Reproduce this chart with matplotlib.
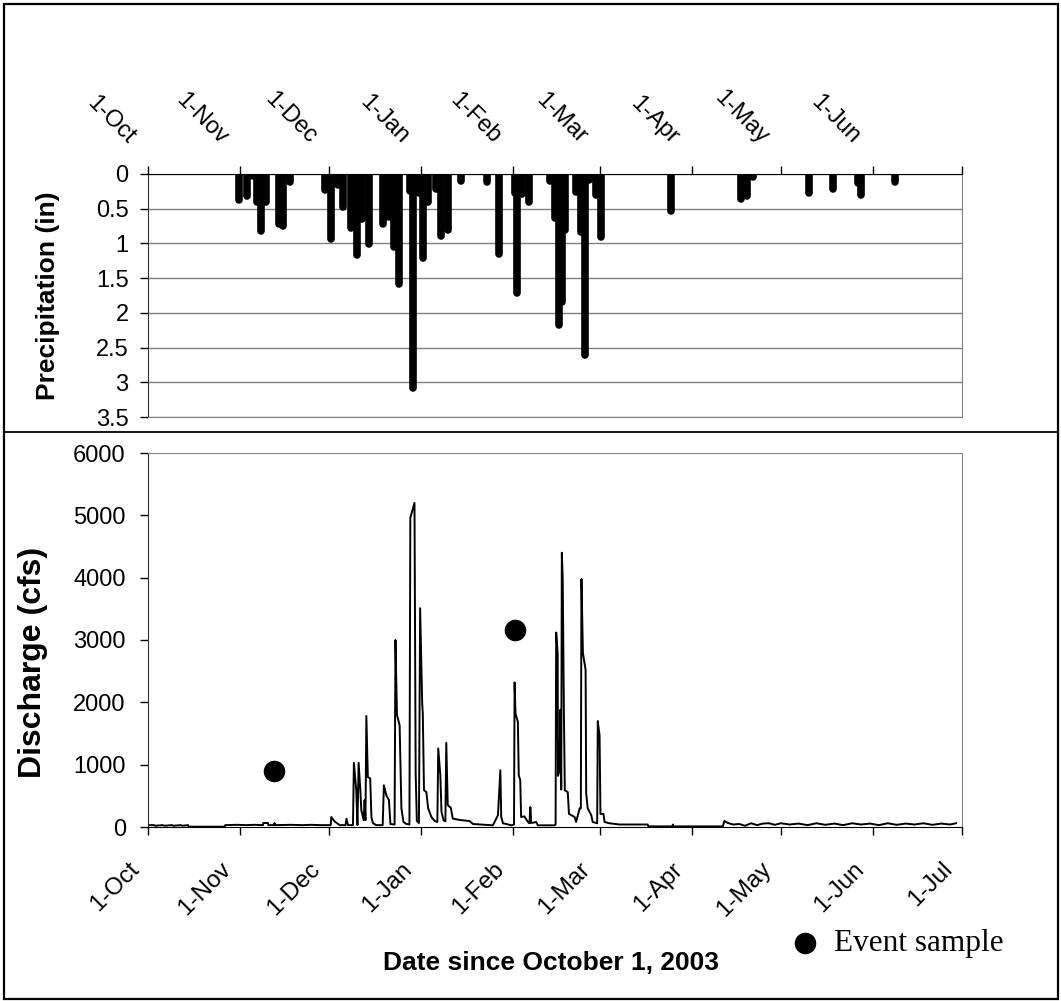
import datetime as dt
import matplotlib
matplotlib.use("Agg")
import matplotlib.pyplot as plt
from matplotlib.patches import Rectangle
from matplotlib.lines import Line2D

plt.rcParams['font.family'] = ['Liberation Sans', 'DejaVu Sans']

# ---- data (days since 1-Oct-2003) ----
# daily precipitation, inches
precip_day = [30.6, 33.3, 35.3, 36.8, 38.1, 39.6, 44.1, 45.4, 47.7, 59.5, 61.6, 63.8,
              65.6, 68.4, 70.3, 72.1, 74.4, 79.2, 81.0, 82.7, 84.5, 88.1, 89.3, 91.2,
              92.5, 94.1, 96.8, 98.7, 100.9, 105.4, 114.1, 118.1, 123.4, 124.2, 126.0,
              128.2, 135.4, 137.1, 138.3, 139.4, 140.5, 144.1, 145.8, 147.0, 148.6,
              150.9, 152.6, 176.1, 199.7, 201.5, 203.6, 222.4, 230.5, 238.9, 239.9, 251.5]
precip_in = [0.37, 0.32, 0.03, 0.41, 0.82, 0.41, 0.72, 0.75, 0.12, 0.23, 0.93, 0.16,
             0.47, 0.78, 1.16, 0.65, 1.01, 0.72, 0.62, 1.05, 1.58, 0.25, 3.08, 0.28,
             1.21, 0.41, 0.22, 0.89, 0.80, 0.10, 0.12, 1.15, 0.28, 1.72, 0.29,
             0.41, 0.10, 0.64, 2.18, 1.85, 0.81, 0.26, 0.83, 2.60, 0.09,
             0.30, 0.91, 0.54, 0.36, 0.32, 0.05, 0.27, 0.21, 0.13, 0.30, 0.11]

# stream discharge, cfs
q_day = [0, 2, 2.5, 5, 5.5, 8, 8.5, 11, 11.5, 13.5, 13.7, 25.8, 26.0, 30, 33, 36,
         38.7, 38.8, 40.4, 40.5, 42.4, 42.6, 42.8, 48, 52, 55, 58, 61.5, 61.7, 62.8,
         64.5, 66.5, 66.8, 67.3, 69.0, 69.3, 70.1, 70.5, 70.9, 71.5, 71.8, 72.6, 72.9,
         73.2, 73.5, 74.0, 74.8, 75.2, 75.7, 76.8, 79.0, 79.4, 80.2, 81.1, 81.6, 83.0,
         83.3, 83.8, 84.7, 85.3, 86.0, 86.9, 88.0, 88.3, 89.7, 90.1, 90.5, 91.2, 91.6,
         92.3, 92.5, 92.9, 93.7, 94.3, 95.4, 96.5, 97.4, 97.7, 98.4, 98.8, 99.5, 100.1,
         100.4, 100.9, 101.9, 102.6, 104.9, 108.2, 109.4, 116.1, 117.8, 118.6, 118.9,
         119.5, 120.6, 122.3, 123.2, 123.4, 123.7, 124.5, 124.8, 125.3, 125.6, 126.7,
         127.9, 128.4, 128.7, 129.0, 130.7, 131.2, 136.8, 137.2, 137.4, 137.9, 138.0,
         138.5, 138.8, 139.1, 139.3, 139.6, 140.0, 140.3, 141.3, 141.7, 142.5, 143.6,
         144.1, 145.3, 145.7, 145.9, 146.4, 147.3, 147.5, 148.0, 149.2, 149.7, 151.2,
         151.4, 152.0, 152.3, 153.3, 153.7, 155.3, 158.7, 168.2, 168.4, 176.5, 176.7,
         176.9, 193.5, 194.0, 195.2, 197, 199, 201, 203, 205, 207, 209, 211, 213, 216,
         219, 222, 225, 228, 231, 234, 237, 240, 243, 246, 249, 252, 255, 258, 261,
         264, 267, 270, 272]
q_cfs = [30, 30, 20, 30, 20, 30, 20, 30, 20, 30, 5, 5, 30, 35, 30, 35,
         30, 64, 64, 30, 30, 64, 30, 35, 30, 35, 30, 30, 160, 90,
         30, 30, 134, 30, 30, 1030, 590, 30, 1030, 570, 270, 110, 430,
         110, 1780, 800, 780, 160, 64, 30, 30, 670, 510, 430, 47, 40,
         3000, 1800, 1630, 300, 80, 50, 40, 4960, 5200, 860, 96, 64, 3510,
         1980, 1820, 590, 560, 300, 160, 96, 80, 1260, 830, 240, 107, 90,
         1350, 350, 310, 135, 113, 96, 48, 27, 190, 910, 160,
         59, 48, 27, 40, 2320, 1820, 1690, 830, 750, 160, 170,
         80, 60, 320, 64, 80, 27, 27, 40, 3120, 2790, 820,
         900, 1880, 600, 4400, 3970, 1820, 590, 560, 210, 190, 160,
         80, 300, 300, 3980, 2790, 2520, 540, 300, 190, 80, 60,
         1700, 1470, 210, 210, 80, 60, 40, 40, 10, 10, 40,
         10, 10, 96, 64, 40, 48, 20, 60, 30, 55, 60, 35, 60, 40,
         55, 30, 60, 35, 55, 30, 60, 40, 55, 30, 60, 35, 55, 40, 60,
         35, 55, 40, 60]

# event samples
event_day = [42.3, 123.4]
event_cfs = [900, 3160]

tick_names = ['1-Oct', '1-Nov', '1-Dec', '1-Jan', '1-Feb', '1-Mar',
              '1-Apr', '1-May', '1-Jun', '1-Jul']


def month_offsets():
    """Day offsets of the first of each month, Oct 2003 - Jul 2004."""
    start = dt.date(2003, 10, 1)
    out = []
    y, m = 2003, 10
    for _ in range(10):
        out.append((dt.date(y, m, 1) - start).days)
        m += 1
        if m > 12:
            m, y = 1, y + 1
    return out


def main():
    W, H = 1061, 1001
    fig = plt.figure(figsize=(W / 100, H / 100), dpi=100)
    ticks = month_offsets()
    gray = '#808080'

    left, right = 148 / W, 962 / W

    # ---- precipitation panel (top) ----
    ax_p = fig.add_axes([left, 1 - 417 / H, right - left, (417 - 174) / H])
    bars = ax_p.vlines(precip_day, 0, precip_in, color='black', lw=5.5, zorder=3)
    bars.set_capstyle('round')
    ax_p.set_xlim(0, 274)
    ax_p.set_ylim(3.5, 0)
    ax_p.set_yticks([0, 0.5, 1, 1.5, 2, 2.5, 3, 3.5])
    ax_p.set_yticklabels(['0', '0.5', '1', '1.5', '2', '2.5', '3', '3.5'], fontsize=17)
    ax_p.yaxis.grid(True, color=gray, lw=1)
    ax_p.set_axisbelow(True)
    ax_p.xaxis.tick_top()
    ax_p.set_xticks(ticks)
    ax_p.tick_params(axis='x', length=6, width=1, labeltop=False, labelbottom=False)
    ax_p.tick_params(axis='y', length=6, width=1, pad=8)
    ax_p.spines['top'].set_color('black')
    ax_p.spines['left'].set_color('#303030')
    ax_p.spines['right'].set_color(gray)
    ax_p.spines['bottom'].set_color(gray)
    for d, name in zip(ticks[:9], tick_names[:9]):
        ax_p.annotate(name, xy=(d, 1), xycoords=('data', 'axes fraction'),
                      xytext=(-12, 24), textcoords='offset points',
                      rotation=-45, ha='right', va='center',
                      rotation_mode='anchor', fontsize=17)

    # ---- discharge panel (bottom) ----
    ax_q = fig.add_axes([left, 1 - 827 / H, right - left, (827 - 453) / H])
    ax_q.plot(q_day, q_cfs, color='black', lw=1.4)
    ax_q.plot(event_day, event_cfs, 'o', color='black', ms=14.5, zorder=4)
    ax_q.set_xlim(0, 274)
    ax_q.set_ylim(0, 6000)
    ax_q.set_yticks(range(0, 6001, 1000))
    ax_q.tick_params(axis='y', length=6, width=1, pad=10, labelsize=17)
    ax_q.set_xticks(ticks)
    ax_q.tick_params(axis='x', length=6, width=1, labelbottom=False)
    ax_q.spines['top'].set_color(gray)
    ax_q.spines['right'].set_color(gray)
    ax_q.spines['left'].set_color('#303030')
    ax_q.spines['bottom'].set_color('black')
    for d, name in zip(ticks, tick_names):
        ax_q.annotate(name, xy=(d, 0), xycoords=('data', 'axes fraction'),
                      xytext=(-9, -28), textcoords='offset points',
                      rotation=45, ha='right', va='center',
                      rotation_mode='anchor', fontsize=17.5)

    # axis titles
    fig.text(48 / W, 1 - 296 / H, 'Precipitation (in)', rotation=90,
             ha='center', va='center', fontsize=19, fontweight='bold')
    fig.text(33 / W, 1 - 662 / H, 'Discharge (cfs)', rotation=90,
             ha='center', va='center', fontsize=23, fontweight='bold')
    fig.text(551 / W, 1 - 970 / H, 'Date since October 1, 2003',
             ha='center', va='baseline', fontsize=19, fontweight='bold')

    # legend for the event samples
    fig.add_artist(Line2D([805 / W], [1 - 943 / H], marker='o', ms=14.5,
                          color='black', linestyle='none'))
    fig.text(834 / W, 1 - 951 / H, 'Event sample', ha='left', va='baseline',
             fontsize=22.5, family=['Liberation Serif', 'DejaVu Serif'])

    # outer frame and the divider between the panels
    fig.add_artist(Rectangle((4 / W, 2 / H), 1054 / W, 995 / H, fill=False,
                             edgecolor='black', lw=1.6, transform=fig.transFigure))
    fig.add_artist(Line2D([4 / W, 1058 / W], [1 - 432 / H, 1 - 432 / H],
                          color='black', lw=1.3, transform=fig.transFigure))

    fig.savefig('out.png', dpi=100)
    plt.close(fig)


if __name__ == '__main__':
    main()
